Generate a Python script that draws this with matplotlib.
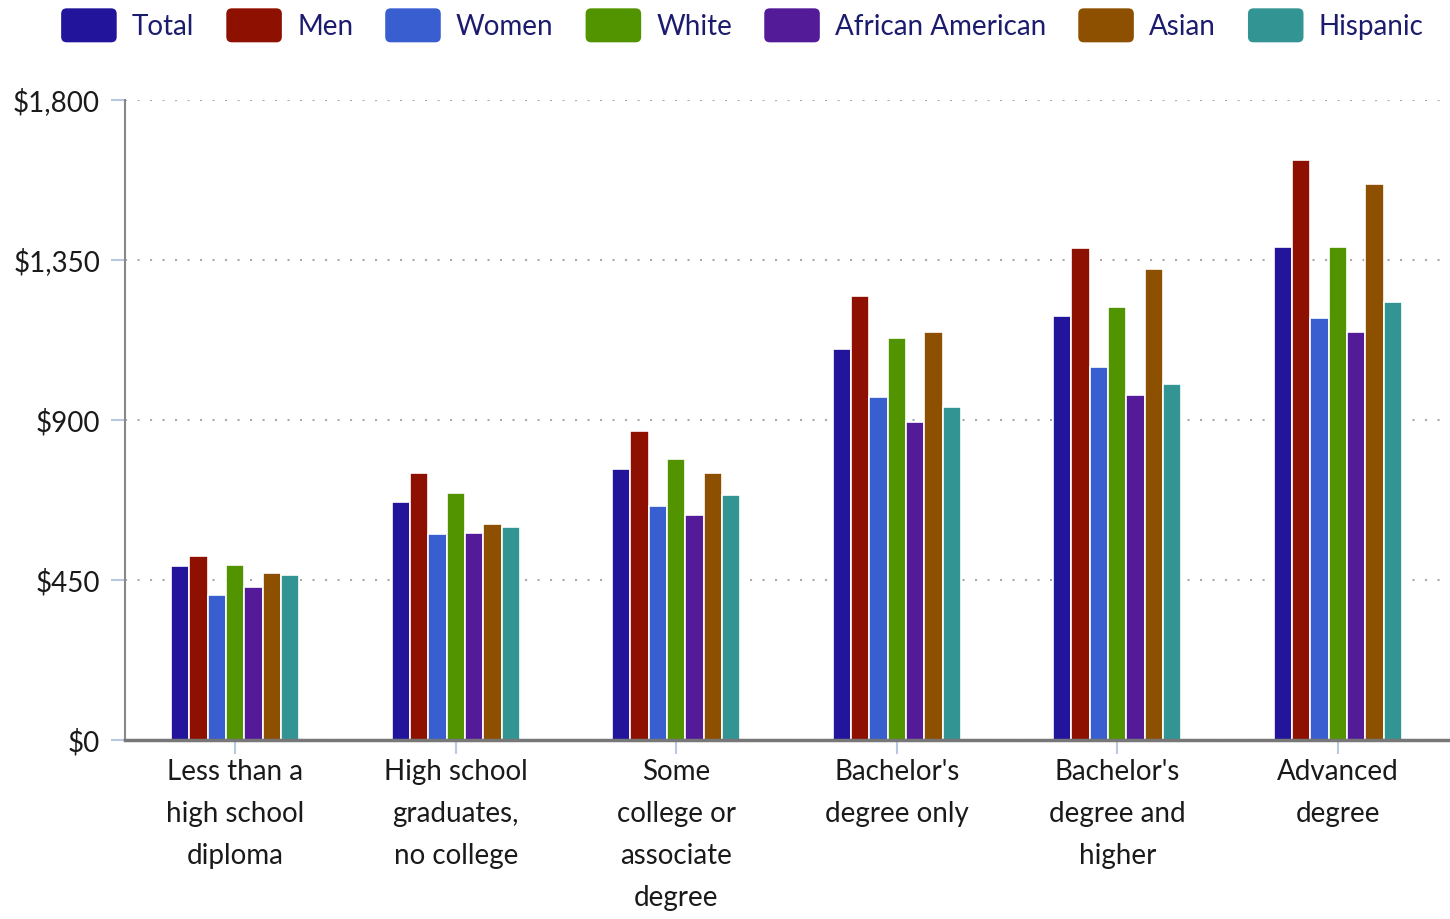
import numpy as np
import matplotlib
matplotlib.use("Agg")
from matplotlib import pyplot as plt
from matplotlib.ticker import FuncFormatter
from matplotlib.patches import FancyBboxPatch
from matplotlib.legend_handler import HandlerPatch

plt.rcParams['font.family'] = ['Lato', 'DejaVu Sans']

categories = ["Less than a\nhigh school\ndiploma", "High school\ngraduates,\nno college",
              "Some\ncollege or\nassociate\ndegree", "Bachelor's\ndegree only",
              "Bachelor's\ndegree and\nhigher", "Advanced\ndegree"]
series = ["Total", "Men", "Women", "White", "African American", "Asian", "Hispanic"]

total = [488, 668, 761, 1101, 1193, 1387]
men = [517, 751, 869, 1249, 1385, 1631]
women = [409, 578, 657, 965, 1049, 1187]
white = [493, 694, 789, 1130, 1218, 1387]
african_american = [430, 583, 633, 895, 970, 1147]
asian = [470, 607, 751, 1147, 1325, 1564]
hispanic = [464, 600, 690, 937, 1001, 1232]

values = [total, men, women, white, african_american, asian, hispanic]
colors = ["#22159b", "#8e1000", "#385ecf", "#519400", "#531b98", "#8d4f00", "#339494"]


class RoundHandler(HandlerPatch):
    # rounded legend swatches
    def create_artists(self, legend, orig_handle, xdescent, ydescent, width, height, fontsize, trans):
        p = FancyBboxPatch((-xdescent, -ydescent - height * 0.3), width, height * 1.6,
                           boxstyle="round,pad=0,rounding_size=4",
                           facecolor=orig_handle.get_facecolor(), edgecolor="none", transform=trans)
        return [p]


fig = plt.figure(figsize=(14.5, 9.19), dpi=100)
ax = fig.add_axes([125/1450, 1-740/919, 1323/1450, 640/919])

x = np.arange(len(categories))
w = 0.083
for i, (name, vals, c) in enumerate(zip(series, values, colors)):
    ax.bar(x + (i - 3) * w, vals, w, color=c, edgecolor="white", linewidth=1.2, label=name, zorder=3)

ax.set_xlim(-0.5, 5.5)
ax.set_ylim(0, 1800)
ax.set_yticks([0, 450, 900, 1350, 1800])
ax.yaxis.set_major_formatter(FuncFormatter(lambda v, p: "${:,.0f}".format(v)))
ax.set_xticks(x)
ax.set_xticklabels(categories, linespacing=1.75)
ax.tick_params(axis="both", labelsize=20, colors="#b8c8e0", labelcolor="#1a1a1a", length=10, width=1.5)
ax.tick_params(axis="x", pad=4)
ax.tick_params(axis="y", pad=8)

ax.grid(axis="y", linestyle=(0, (1, 5)), color="#aaaaaa", linewidth=1.5, zorder=0)
for s in ["top", "right"]:
    ax.spines[s].set_visible(False)
ax.spines["left"].set_color("#888888")
ax.spines["left"].set_linewidth(1.5)
ax.spines["bottom"].set_color("#777777")
ax.spines["bottom"].set_linewidth(2.5)
ax.spines["bottom"].set_zorder(4)

handles = [c.patches[0] for c in ax.containers]
fig.legend(handles, series, loc="upper center", bbox_to_anchor=(0.512, 1.012), ncol=7, frameon=False,
           fontsize=20, handlelength=2.0, handleheight=0.8, columnspacing=1.15, handletextpad=0.55,
           labelcolor="#1c1c6e", handler_map={matplotlib.patches.Rectangle: RoundHandler()})

plt.savefig("out.png", dpi=100)
